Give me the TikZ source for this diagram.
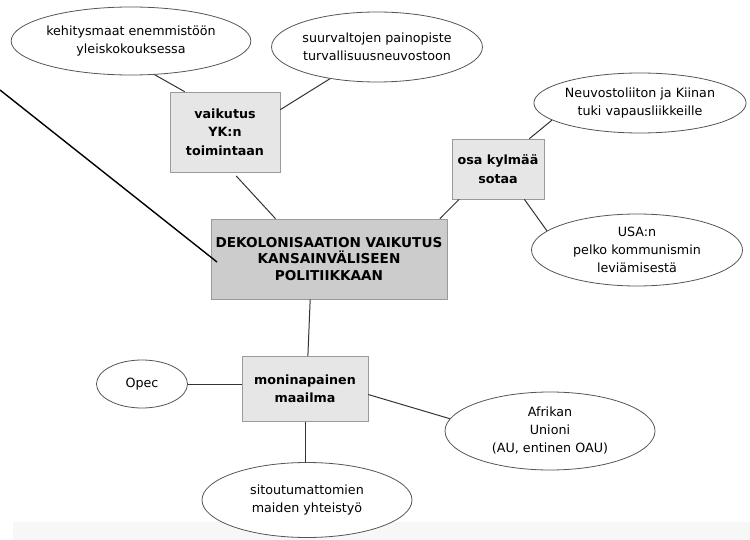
\documentclass[tikz,border=0pt]{standalone}
\usepackage{fontspec}
\setmainfont{DejaVu Sans}
\usetikzlibrary{shapes.geometric,calc}
\definecolor{boxfill}{HTML}{E6E6E6}
\definecolor{mainfill}{HTML}{CCCCCC}
\definecolor{boxline}{HTML}{9A9A9A}
\definecolor{ellline}{HTML}{555555}
\definecolor{conline}{HTML}{333333}
\tikzset{
  oval/.style={ellipse, draw=ellline, line width=0.8pt, fill=white, align=center, inner sep=0pt,
    font=\fontsize{12.7}{18}\selectfont},
  subbox/.style={rectangle, draw=boxline, line width=0.6pt, fill=boxfill, align=center, inner sep=0pt,
    font=\fontsize{12.7}{18.5}\selectfont\bfseries},
  mainbox/.style={rectangle, draw=boxline, line width=0.7pt, fill=mainfill, align=center, inner sep=0pt,
    font=\fontsize{13.6}{16.5}\selectfont\bfseries},
  con/.style={draw=conline, line width=1pt},
}
\begin{document}
\begin{tikzpicture}[x=1pt,y=-1pt]
\path[use as bounding box] (0,0) rectangle (750,540);
\fill[gray!6] (13,522) rectangle (750,540);

% nodes
\node[oval, minimum width=210pt, minimum height=68pt] (e1) at (131,41) {kehitysmaat enemmistöön\\yleiskokouksessa};
\node[oval, minimum width=210pt, minimum height=70pt] (e2) at (377,47) {suurvaltojen painopiste\\turvallisuusneuvostoon};
\node[subbox, minimum width=110pt, minimum height=80pt] (yk) at (225,132) {vaikutus\\YK:n\\toimintaan};
\node[mainbox, minimum width=236pt, minimum height=80pt] (main) at (329,259) {DEKOLONISAATION VAIKUTUS\\KANSAINVÄLISEEN\\POLITIIKKAAN};
\node[subbox, minimum width=92pt, minimum height=60pt] (osa) at (498,169) {osa kylmää\\sotaa};
\node[oval, minimum width=211pt, minimum height=60pt] (neu) at (640,103) {Neuvostoliiton ja Kiinan\\tuki vapausliikkeille};
\node[oval, minimum width=211pt, minimum height=72pt] (usa) at (637,250) {USA:n\\pelko kommunismin\\leviämisestä};
\node[subbox, minimum width=126pt, minimum height=65pt] (moni) at (305,389) {moninapainen\\maailma};
\node[oval, minimum width=91pt, minimum height=48pt] (opec) at (142,384) {Opec};
\node[oval, minimum width=210pt, minimum height=78pt] (afr) at (550,431) {Afrikan\\Unioni\\(AU, entinen OAU)};
\node[oval, minimum width=210pt, minimum height=75pt] (sit) at (307,500) {sitoutumattomien\\maiden yhteistyö};

\coordinate (lstart) at (0,90);
\coordinate (lend) at (217,262);

% connectors
\draw[con] (e1.-55) -- (yk.135);
\draw[con] (e2.-146) -- (yk.22);
\draw[con, shorten <=5pt] (yk.-79) -- (main.143.5);
\draw[black, line width=1.4pt] (lstart) -- (lend);
\draw[con] (main.20.5) -- (osa.-142);
\draw[con] (osa.44) -- (neu.191);
\draw[con] (osa.-49) -- (usa.168);
\draw[con] (main.-115) -- (moni.85);
\draw[con] (opec.east) -- (opec.east -| moni.west);
\draw[con] (moni.-5.4) -- (afr.173.7);
\draw[con] (moni.south) -- (moni.south |- sit.north);
\end{tikzpicture}
\end{document}
